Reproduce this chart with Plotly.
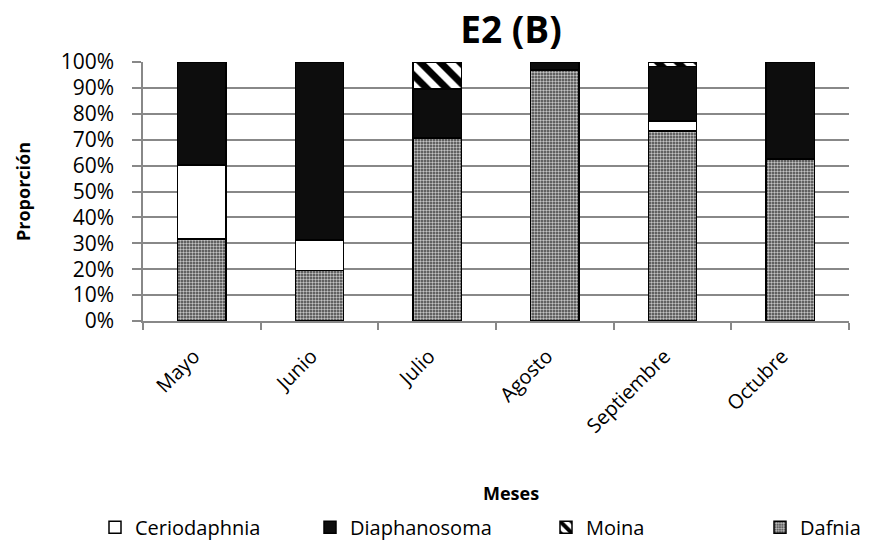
import plotly.graph_objects as go

meses = ["Mayo", "Junio", "Julio", "Agosto", "Septiembre", "Octubre"]

# Proportion (%) of each cladoceran genus per month
dafnia = [31.7, 19.5, 70.7, 96.9, 73.4, 62.5]
ceriodaphnia = [28.5, 11.8, 0.0, 0.0, 3.8, 0.0]
diaphanosoma = [39.8, 68.7, 18.9, 3.1, 21.1, 37.5]
moina = [0.0, 0.0, 10.4, 0.0, 1.7, 0.0]

FONT = "Open Sans"
W, H = 888, 550
outline = dict(color="#000000", width=1.5)

fig = go.Figure()

fig.add_trace(go.Bar(
    name="Dafnia", x=meses, y=dafnia, legend="legend4",
    marker=dict(color="#6e6e6e", line=outline,
                pattern=dict(shape=".", fgcolor="#c4c4c4", bgcolor="#404040",
                             size=3, solidity=0.5, fillmode="replace")),
))
fig.add_trace(go.Bar(
    name="Ceriodaphnia", x=meses, y=ceriodaphnia, legend="legend",
    marker=dict(color="#ffffff", line=outline),
))
fig.add_trace(go.Bar(
    name="Diaphanosoma", x=meses, y=diaphanosoma, legend="legend2",
    marker=dict(color="#0d0d0d", line=outline),
))
fig.add_trace(go.Bar(
    name="Moina", x=meses, y=moina, legend="legend3",
    marker=dict(color="#ffffff", line=outline,
                pattern=dict(shape="\\", fgcolor="#000000", bgcolor="#ffffff",
                             size=14, solidity=0.5, fillmode="replace")),
))
fig.update_traces(showlegend=True)


def legend_at(px):
    # one single-entry legend per series, laid out in a row along the bottom
    return dict(
        orientation="h", xref="container", x=px / W, xanchor="left",
        yref="container", y=0.006, yanchor="bottom",
        font=dict(size=20, family=FONT), bgcolor="rgba(0,0,0,0)",
    )


fig.update_layout(
    showlegend=True,
    barmode="stack",
    bargap=0.59,
    width=W, height=H,
    margin=dict(l=143, r=39, t=62, b=229),
    paper_bgcolor="#ffffff", plot_bgcolor="#ffffff",
    font=dict(family=FONT, color="#000000"),
    title=dict(text="<b>E2 (B)</b>", x=511 / W, xanchor="center",
               xref="container", y=1 - 30 / H, yanchor="middle",
               yref="container", font=dict(size=37, family=FONT)),
    xaxis=dict(
        automargin=False,
        tickangle=-45, tickfont=dict(size=20),
        ticklabelstandoff=14, ticklabelshift=-8,
        showline=True, linecolor="#888888", linewidth=1.5,
        ticks="outside", ticklen=7, tickcolor="#888888", tickwidth=1.5,
        tickson="boundaries", showgrid=False,
    ),
    yaxis=dict(
        automargin=False,
        title=dict(text="<b>Proporción</b>", font=dict(size=18), standoff=25),
        range=[0, 100], dtick=10, ticksuffix="%",
        tickfont=dict(size=21), ticklabelstandoff=14,
        showline=True, linecolor="#888888", linewidth=1.5,
        ticks="outside", ticklen=9, tickcolor="#888888", tickwidth=1.5,
        showgrid=True, gridcolor="#888888", gridwidth=1.5,
        zeroline=False,
    ),
    legend=legend_at(95),
    legend2=legend_at(310),
    legend3=legend_at(546),
    legend4=legend_at(760),
    annotations=[dict(
        text="<b>Meses</b>", xref="paper", yref="paper",
        x=0.5 + 15 / 706, y=-172 / 259, xanchor="center", yanchor="middle",
        showarrow=False, font=dict(size=18, family=FONT),
    )],
)

fig.write_html("out.html")
